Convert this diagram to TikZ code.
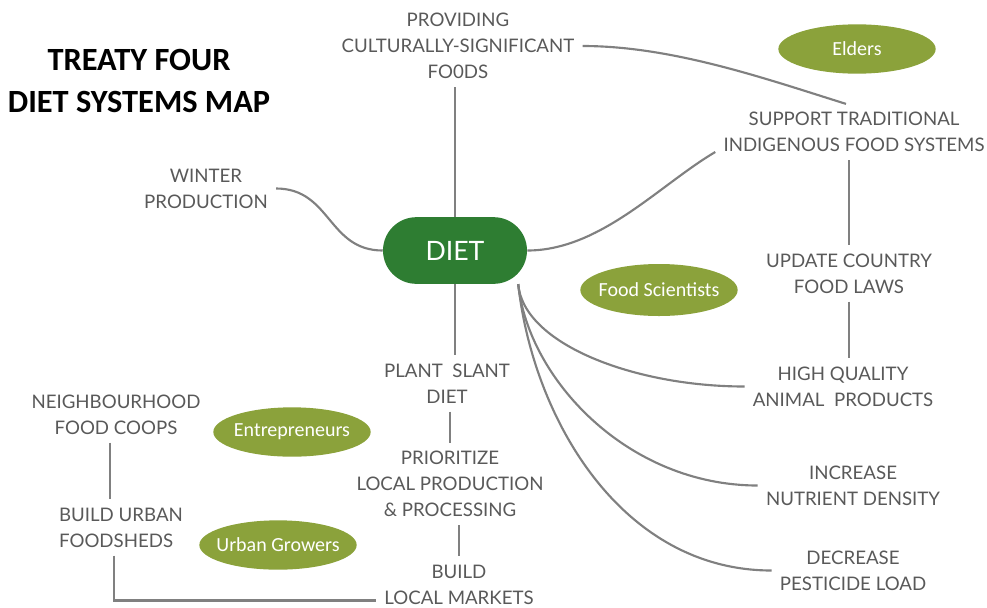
\documentclass[tikz,border=0pt]{standalone}
\usepackage{fontspec}
\setmainfont{Lato}
\newfontfamily\carlito{Carlito}
\usetikzlibrary{shapes.geometric}

\definecolor{inkgrey}{RGB}{89,89,89}
\definecolor{wiregrey}{RGB}{128,128,128}
\definecolor{dietgreen}{RGB}{46,125,50}
\definecolor{actorgreen}{RGB}{139,162,59}

\begin{document}
\begin{tikzpicture}[x=0.75pt,y=-0.75pt,
  topic/.style={align=center,text=inkgrey,inner sep=6pt,font=\fontsize{14}{19.5}\selectfont},
  hub/.style={rectangle,rounded corners=25pt,fill=dietgreen,text=white,minimum width=108pt,minimum height=50pt,font=\fontsize{20}{24}\selectfont},
  actor/.style={ellipse,fill=actorgreen,text=white,inner xsep=-9pt,inner ysep=0pt,minimum width=118pt,minimum height=37pt,font=\carlito\fontsize{15}{18}\selectfont},
  wire/.style={draw=wiregrey,line width=1.6pt}]
\useasboundingbox (0,0) rectangle (987,607);

\node[font=\carlito\bfseries\fontsize{24.3}{31}\selectfont,align=center] (title) at (139,81) {TREATY FOUR\\DIET SYSTEMS MAP};

% hub and topics
\node[hub] (diet) at (455,250.5) {DIET};
\node[topic] (prov) at (458,46) {PROVIDING\\CULTURALLY-SIGNIFICANT\\FO0DS};
\node[topic] (supp) at (854,132) {SUPPORT TRADITIONAL\\INDIGENOUS FOOD SYSTEMS};
\node[topic] (winter) at (206,188.5) {WINTER\\PRODUCTION};
\node[topic] (update) at (849,273.5) {UPDATE COUNTRY\\FOOD LAWS};
\node[topic] (plant) at (447,383.5) {PLANT\ \ SLANT\\DIET};
\node[topic] (hq) at (843,386.5) {HIGH QUALITY\\ANIMAL\ \ PRODUCTS};
\node[topic] (neigh) at (116,414.5) {NEIGHBOURHOOD\\FOOD COOPS};
\node[topic] (prior) at (450,484) {PRIORITIZE\\LOCAL PRODUCTION\\\&~PROCESSING};
\node[topic] (nutr) at (853,485.5) {INCREASE\\NUTRIENT DENSITY};
\node[topic,align=left] (urban) at (121,527.5) {BUILD URBAN\\FOODSHEDS};
\node[topic] (pest) at (853,570.5) {DECREASE\\PESTICIDE LOAD};
\node[topic] (bm) at (459,584.5) {BUILD\\LOCAL MARKETS};

% who is involved
\node[actor] (eld) at (857,49) {Elders};
\node[actor,minimum height=39pt] (sci) at (659,290) {Food Scientists};
\node[actor] (ent) at (292,432) {Entrepreneurs};
\node[actor] (grow) at (278,545) {Urban Growers};

% links
\draw[wire] (diet.north) -- (diet.north |- prov.south);
\draw[wire] (prov.east) .. controls +(90,0) and +(-80,-25) .. ([xshift=-6pt]supp.north);
\draw[wire] (diet.east) .. controls +(73,0) and +(-56,33) .. ([yshift=-15pt]supp.west);
\draw[wire] (winter.east) .. controls +(55,0) and +(-55,0) .. (diet.west);
\draw[wire] (update.north |- supp.south) -- (update.north);
\draw[wire] (update.south) -- (update.south |- hq.north);
\draw[wire] (diet.south) -- (diet.south |- plant.north);
\draw[wire] (prior.north |- plant.south) -- (prior.north);
\draw[wire] (bm.north |- prior.south) -- (bm.north);
\draw[wire] ([xshift=-4.5pt]neigh.south) -- ([xshift=-4.5pt]neigh.south |- urban.north);
\draw[wire] ([xshift=-5pt]urban.south) |- ([yshift=-12pt]bm.west);
\draw[wire] (diet.-28) .. controls +(5,60) and +(-110,0) .. (hq.west);
\draw[wire] (diet.-28) .. controls +(10,95) and +(-130,0) .. (nutr.west);
\draw[wire] (diet.-28) .. controls +(15,135) and +(-150,0) .. (pest.west);
\end{tikzpicture}
\end{document}
